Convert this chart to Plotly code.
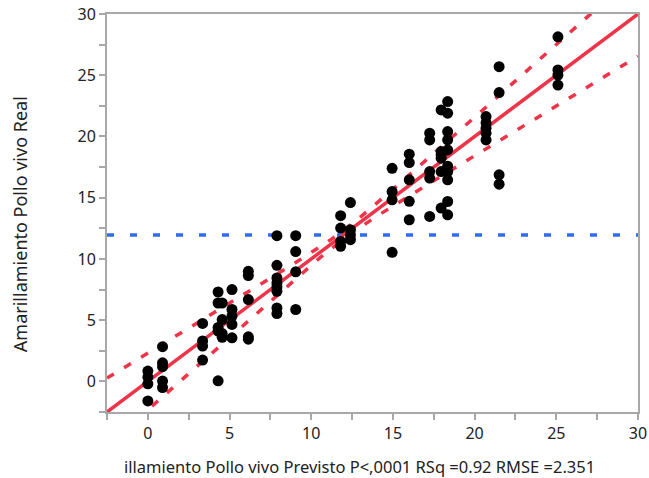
import numpy as np
import plotly.graph_objects as go

# Predicted (x) columns and the actual (y) values observed at each
pred_levels = [0.0, 0.9, 3.35, 4.3, 4.55, 5.15, 6.15, 7.9, 9.05, 11.8, 12.4,
               14.95, 16.0, 17.25, 17.95, 18.35, 20.7, 21.5, 25.1]
actual_values = [
    [0.84, 0.35, -0.2, -1.6],
    [2.83, 1.52, 1.2, 0.03, -0.5],
    [4.73, 3.3, 2.88, 1.74],
    [7.3, 6.4, 4.4, 4.1, 0.05],
    [6.4, 5.05, 3.9, 3.6],
    [7.5, 5.87, 5.32, 4.65, 3.56],
    [8.99, 8.64, 6.68, 3.64, 3.45],
    [11.9, 9.48, 8.45, 8.04, 7.71, 7.36, 6.0, 5.54],
    [11.9, 10.6, 8.95, 5.87],
    [13.53, 12.52, 11.43, 11.03],
    [14.6, 12.39, 11.95, 11.57],
    [17.4, 15.5, 14.83, 10.54],
    [18.55, 17.87, 16.46, 14.7, 13.2],
    [20.27, 19.72, 17.13, 16.6, 13.47],
    [22.17, 18.77, 18.5, 18.23, 17.13, 14.15],
    [22.85, 21.9, 20.4, 19.72, 18.9, 17.57, 17.13, 16.46, 14.69, 13.6],
    [21.62, 21.1, 20.67, 20.27, 19.72],
    [25.7, 23.58, 16.87, 16.1],
    [28.14, 25.43, 25.02, 24.2],
]

mean_actual = 11.95      # horizontal reference line (mean of actual)
band_c0 = 0.35           # confidence band half-width at centre
band_k = 0.19            # band growth per unit distance from centre
x_title = "illamiento Pollo vivo Previsto P<,0001 RSq =0.92 RMSE =2.351"
y_title = "Amarillamiento Pollo vivo Real"
axis_range = [-2.5, 30]
tick_vals = [0, 5, 10, 15, 20, 25, 30]

xs, ys = [], []
for p, vals in zip(pred_levels, actual_values):
    for v in vals:
        xs.append(p)
        ys.append(v)

red = "#EE3448"
blue = "#2F6CF6"
font_family = "Noto Sans"

xl = np.linspace(axis_range[0], axis_range[1], 300)
hw = np.sqrt(band_c0**2 + band_k**2 * (xl - mean_actual)**2)

fig = go.Figure()
fig.add_trace(go.Scatter(x=[axis_range[0], axis_range[1]], y=[mean_actual, mean_actual],
                         mode="lines", line=dict(color=blue, width=3.5, dash="7px,16px"),
                         hoverinfo="skip"))
fig.add_trace(go.Scatter(x=xl, y=xl + hw, mode="lines",
                         line=dict(color=red, width=3.5, dash="8px,12px"), hoverinfo="skip"))
fig.add_trace(go.Scatter(x=xl, y=xl - hw, mode="lines",
                         line=dict(color=red, width=3.5, dash="8px,12px"), hoverinfo="skip"))
fig.add_trace(go.Scatter(x=[axis_range[0], axis_range[1]], y=[axis_range[0], axis_range[1]],
                         mode="lines", line=dict(color=red, width=3.5), hoverinfo="skip"))
fig.add_trace(go.Scatter(x=xs, y=ys, mode="markers",
                         marker=dict(color="black", size=11, line=dict(width=0))))

axis_common = dict(
    range=axis_range, tickvals=tick_vals, showgrid=False, zeroline=False,
    showline=True, linecolor="#A8A8A8", linewidth=2, mirror=True, automargin=False,
    ticks="outside", ticklen=6, tickwidth=1.5, tickcolor="#A8A8A8",
    minor=dict(dtick=2.5, tick0=0, ticks="outside", ticklen=6, tickwidth=1.5, tickcolor="#A8A8A8"),
    tickfont=dict(family=font_family, size=16, color="#222"),
)

fig.update_layout(
    width=649, height=478,
    margin=dict(l=107, r=11, t=14, b=66),
    paper_bgcolor="white", plot_bgcolor="white",
    showlegend=False,
    xaxis=dict(**axis_common),
    yaxis=dict(**axis_common),
    annotations=[
        dict(text=x_title, xref="paper", yref="paper", x=0.476, y=0,
             xanchor="center", yanchor="middle", yshift=-54, showarrow=False,
             font=dict(family=font_family, size=16.5, color="#222")),
        dict(text=y_title, xref="paper", yref="paper", x=0, y=0.472,
             xanchor="center", yanchor="middle", xshift=-87, textangle=-90,
             showarrow=False, font=dict(family=font_family, size=18, color="#222")),
    ],
)

fig.write_html("out.html")
